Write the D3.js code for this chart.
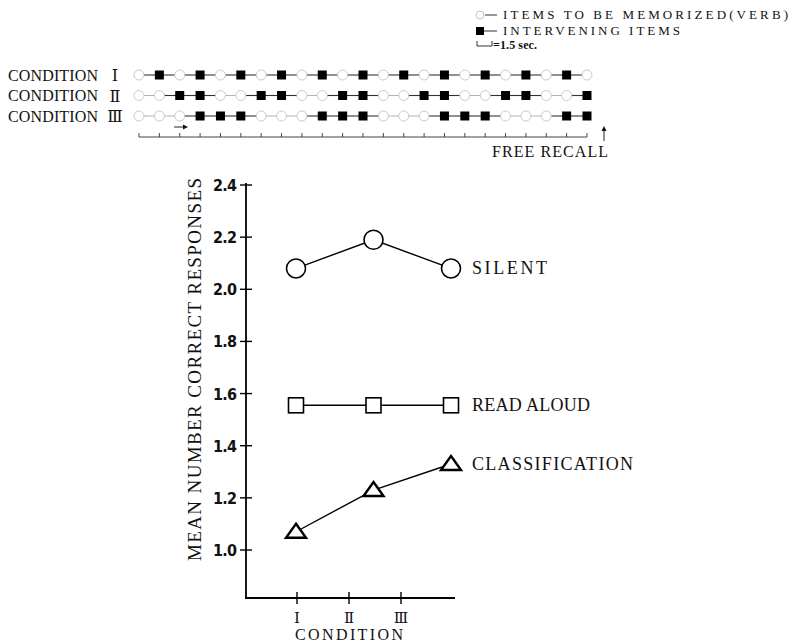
<!DOCTYPE html>
<html>
<head>
<meta charset="utf-8">
<script src="https://cdn.jsdelivr.net/npm/d3@7"></script>
<style>
  html, body { margin: 0; padding: 0; background: #fff; }
  svg { display: block; }
  .serif { font-family: "Liberation Serif", "DejaVu Serif", serif; fill: #111; }
  .tick { font-family: "Liberation Sans Narrow", "DejaVu Sans Condensed", "Liberation Sans", sans-serif; font-weight: bold; fill: #111; }
</style>
</head>
<body>
<script>
// ---------------- DATA ----------------
const conditions = ["I", "II", "III"];
const conditionNumerals = ["\u2160", "\u2161", "\u2162"];
const silent = [2.08, 2.19, 2.08];
const readAloud = [1.555, 1.555, 1.555];
const classification = [1.07, 1.23, 1.33];
const seriesNames = ["SILENT", "READ ALOUD", "CLASSIFICATION"];
const yTicks = [1.0, 1.2, 1.4, 1.6, 1.8, 2.0, 2.2, 2.4];
// presentation sequences: O = item to be memorized (verb), F = intervening item
const seqI   = ["O","F","O","F","O","F","O","F","O","F","O","F","O","F","O","F","O","F","O","F","O","F","O"];
const seqII  = ["O","O","F","F","O","O","F","F","O","O","F","F","O","O","F","F","O","O","F","F","O","O","F"];
const seqIII = ["O","O","O","F","F","F","O","O","O","F","F","F","O","O","O","F","F","F","O","O","O","F","F"];
const rowLabels = ["CONDITION", "CONDITION", "CONDITION"];
const legendTexts = ["ITEMS TO BE MEMORIZED(VERB)", "INTERVENING ITEMS", "=1.5 sec."];

// ---------------- SETUP ----------------
const W = 790, H = 644;
const svg = d3.select("body").append("svg").attr("width", W).attr("height", H);
svg.append("rect").attr("width", W).attr("height", H).attr("fill", "#fff");

function txt(g, s, x, y, size, len, cls, anchor) {
  const t = g.append("text").attr("class", cls || "serif")
    .attr("x", x).attr("y", y).attr("font-size", size)
    .attr("text-anchor", anchor || "start").text(s);
  if (len) t.attr("textLength", len).attr("lengthAdjust", "spacing");
  return t;
}

// ---------------- TOP: sequences ----------------
const topG = svg.append("g");
const sx = d3.scalePoint().domain(d3.range(seqI.length)).range([139, 587]);
const rowY = d3.scalePoint().domain([0, 1, 2]).range([75, 116]);
const seqs = [seqI, seqII, seqIII];

seqs.forEach((seq, r) => {
  const yy = rowY(r);
  txt(topG, rowLabels[r], 8, yy + 5.5, 16, 90);
  topG.append("text").attr("x", 115).attr("y", yy + 6).attr("text-anchor", "middle")
    .attr("font-family", "DejaVu Serif, serif").attr("font-size", 16).attr("fill", "#111")
    .text(conditionNumerals[r]);
  for (let i = 0; i < seq.length - 1; i++) {
    const dark = seq[i] === "F" || seq[i + 1] === "F";
    topG.append("line").attr("x1", sx(i)).attr("x2", sx(i + 1)).attr("y1", yy).attr("y2", yy)
      .attr("stroke", dark ? "#333" : "#aaa").attr("stroke-width", dark ? 1.1 : 0.9);
  }
  seq.forEach((s, i) => {
    if (s === "F") {
      topG.append("rect").attr("x", sx(i) - 4.5).attr("y", yy - 4.5).attr("width", 9).attr("height", 9).attr("fill", "#000");
    } else {
      topG.append("circle").attr("cx", sx(i)).attr("cy", yy).attr("r", 5)
        .attr("fill", "#fff").attr("stroke", "#c4c4c4").attr("stroke-width", 0.9);
    }
  });
});

// timeline (1.5 sec units)
const tlY = 137;
topG.append("line").attr("x1", sx(0)).attr("x2", sx(seqI.length - 1)).attr("y1", tlY).attr("y2", tlY)
  .attr("stroke", "#444").attr("stroke-width", 1);
sx.domain().forEach(i => {
  topG.append("line").attr("x1", sx(i)).attr("x2", sx(i)).attr("y1", tlY - 4).attr("y2", tlY)
    .attr("stroke", "#444").attr("stroke-width", 1);
});
topG.append("line").attr("x1", 174).attr("x2", 184).attr("y1", 127).attr("y2", 127).attr("stroke", "#222").attr("stroke-width", 1);
topG.append("path").attr("d", "M183,124.5 L188,127 L183,129.5 Z").attr("fill", "#111");
topG.append("line").attr("x1", 604).attr("x2", 604).attr("y1", 141).attr("y2", 130).attr("stroke", "#222").attr("stroke-width", 1);
topG.append("path").attr("d", "M601.5,131 L604,126 L606.5,131 Z").attr("fill", "#111");
txt(topG, "FREE RECALL", 492, 157, 16, 116);

// legend
topG.append("circle").attr("cx", 480).attr("cy", 15).attr("r", 4).attr("fill", "#fff").attr("stroke", "#bbb").attr("stroke-width", 0.9);
topG.append("line").attr("x1", 485).attr("x2", 497).attr("y1", 15).attr("y2", 15).attr("stroke", "#333");
txt(topG, legendTexts[0], 503, 19, 13, 285);
topG.append("rect").attr("x", 476).attr("y", 27).attr("width", 8).attr("height", 8).attr("fill", "#000");
topG.append("line").attr("x1", 484).attr("x2", 497).attr("y1", 31).attr("y2", 31).attr("stroke", "#333");
txt(topG, legendTexts[1], 503, 35, 13, 177);
topG.append("path").attr("d", "M477,41 V46 H492 V41").attr("fill", "none").attr("stroke", "#333").attr("stroke-width", 1);
txt(topG, legendTexts[2], 493, 49, 12, 44).attr("font-weight", "bold");

// ---------------- MAIN CHART ----------------
const y = d3.scaleLinear().domain([1.0, 2.4]).range([550, 185]);
const xTick = d3.scalePoint().domain(conditions).range([297, 401]);
const xPlot = d3.scalePoint().domain(conditions).range([296, 451]);
const axisX = 246, axisBottom = 598;

const g = svg.append("g");
g.append("line").attr("x1", axisX).attr("x2", axisX).attr("y1", y(2.4) - 2).attr("y2", axisBottom)
  .attr("stroke", "#000").attr("stroke-width", 1.8);
yTicks.forEach(v => {
  g.append("line").attr("x1", axisX - 6).attr("x2", axisX + 6).attr("y1", y(v)).attr("y2", y(v))
    .attr("stroke", "#000").attr("stroke-width", 1.4);
  txt(g, d3.format(".1f")(v), 237, y(v) + 6, 16, 24, "tick", "end");
});
g.append("line").attr("x1", axisX - 1).attr("x2", 455).attr("y1", axisBottom).attr("y2", axisBottom)
  .attr("stroke", "#000").attr("stroke-width", 1.8);
conditions.forEach((c, i) => {
  g.append("line").attr("x1", xTick(c)).attr("x2", xTick(c)).attr("y1", axisBottom - 6).attr("y2", axisBottom + 6)
    .attr("stroke", "#000").attr("stroke-width", 1.4);
  g.append("text").attr("x", xTick(c)).attr("y", 623).attr("text-anchor", "middle")
    .attr("font-family", "DejaVu Serif, serif").attr("font-size", 15).attr("fill", "#111")
    .text(conditionNumerals[i]);
});
txt(g, "CONDITION", 295, 640, 16, 108);
g.append("text").attr("class", "serif").attr("font-size", 19)
  .attr("transform", "translate(201,561) rotate(-90)")
  .attr("x", 0).attr("y", 0)
  .attr("textLength", 383).attr("lengthAdjust", "spacing")
  .text("MEAN NUMBER CORRECT RESPONSES");

const line = d3.line().x((d, i) => xPlot(conditions[i])).y(d => y(d));
const all = [silent, readAloud, classification];
all.forEach(s => {
  g.append("path").attr("d", line(s)).attr("fill", "none").attr("stroke", "#000").attr("stroke-width", 1.4);
});
silent.forEach((v, i) => {
  g.append("circle").attr("cx", xPlot(conditions[i])).attr("cy", y(v)).attr("r", 9.5)
    .attr("fill", "#fff").attr("stroke", "#000").attr("stroke-width", 1.6);
});
readAloud.forEach((v, i) => {
  g.append("rect").attr("x", xPlot(conditions[i]) - 7.5).attr("y", y(v) - 7.5).attr("width", 15).attr("height", 15)
    .attr("fill", "#fff").attr("stroke", "#000").attr("stroke-width", 1.6);
});
classification.forEach((v, i) => {
  const cx = xPlot(conditions[i]), cy = y(v);
  g.append("path").attr("d", `M${cx},${cy - 8} L${cx + 10},${cy + 6} L${cx - 10},${cy + 6} Z`)
    .attr("fill", "#fff").attr("stroke", "#000").attr("stroke-width", 2.4).attr("stroke-linejoin", "miter");
});
const labelLens = [75, 118, 161];
all.forEach((s, k) => {
  txt(g, seriesNames[k], xPlot("III") + 21, y(s[2]) + 6, 18, labelLens[k]);
});
</script>
</body>
</html>
